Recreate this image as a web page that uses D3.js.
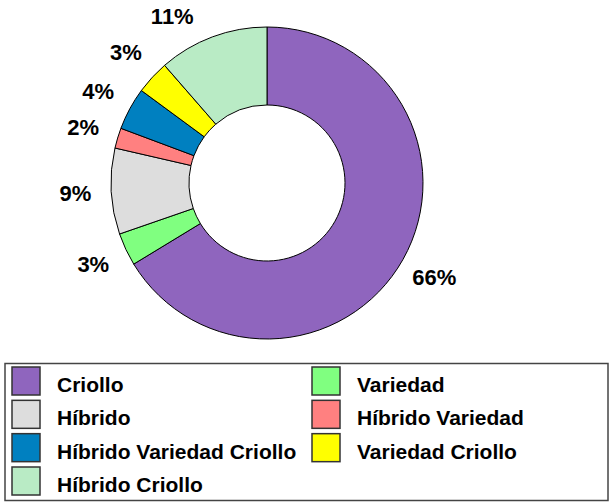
<!DOCTYPE html>
<html>
<head>
<meta charset="utf-8">
<script src="https://cdn.jsdelivr.net/npm/d3@7"></script>
<style>
  html, body { margin: 0; padding: 0; background: #fff; }
  svg { display: block; font-family: Arial, 'Liberation Sans', sans-serif; }
</style>
</head>
<body>
<svg id="chart" width="610" height="502"></svg>
<script>
  // data (shares in %, clockwise from 12 o'clock)
  var categories = ['Criollo', 'Variedad', 'Híbrido', 'Híbrido Variedad',
    'Híbrido Variedad Criollo', 'Variedad Criollo', 'Híbrido Criollo']
  var shares = [66.3, 3.4, 8.9, 2.1, 4.4, 3.5, 11.4]
  var shareLabels = ['66%', '3%', '9%', '2%', '4%', '3%', '11%']

  // constants
  var COLORS = ['#8f65be', '#80ff80', '#dddddd', '#ff8080', '#0080c0', '#ffff00', '#b9ebc5']
  var WIDTH = 610, HEIGHT = 502
  var CX = 267, CY = 183
  var OUTER = 156, INNER = 78, LABEL_R = 192
  var LABEL_MIN_Y = 16

  var svg = d3.select('#chart')

  // donut
  var pie = d3.pie().sort(null).value(function (d) { return d })
  var arc = d3.arc().innerRadius(INNER).outerRadius(OUTER)
  var arcs = pie(shares)

  var g = svg.append('g').attr('transform', 'translate(' + CX + ',' + CY + ')')

  g.selectAll('path')
    .data(arcs)
    .enter().append('path')
    .attr('d', arc)
    .attr('fill', function (d, i) { return COLORS[i] })
    .attr('stroke', '#000')
    .attr('stroke-width', 1)

  // labels sit on a circle round the donut; slide along it if they would leave the top
  function labelPos (d) {
    var a = (d.startAngle + d.endAngle) / 2
    var x = LABEL_R * Math.sin(a)
    var y = -LABEL_R * Math.cos(a)
    if (CY + y < LABEL_MIN_Y) {
      y = LABEL_MIN_Y - CY
      x = (x < 0 ? -1 : 1) * Math.sqrt(LABEL_R * LABEL_R - y * y)
    }
    return [x, y]
  }

  g.selectAll('text')
    .data(arcs)
    .enter().append('text')
    .attr('x', function (d) { return labelPos(d)[0] })
    .attr('y', function (d) { return labelPos(d)[1] })
    .attr('text-anchor', 'middle')
    .attr('dominant-baseline', 'central')
    .attr('font-size', 22)
    .attr('font-weight', 'bold')
    .attr('fill', '#000')
    .text(function (d, i) { return shareLabels[i] })

  // legend
  var legend = svg.append('g')
  legend.append('rect')
    .attr('x', 5).attr('y', 363.5)
    .attr('width', 603).attr('height', 137)
    .attr('fill', '#fff')
    .attr('stroke', '#444')
    .attr('stroke-width', 1.5)

  var colX = d3.scaleLinear().domain([0, 1]).range([12, 312])
  var rowY = d3.scaleLinear().domain([0, 3]).range([367, 467])

  var items = legend.selectAll('g.item')
    .data(categories)
    .enter().append('g')
    .attr('class', 'item')
    .attr('transform', function (d, i) {
      return 'translate(' + colX(i % 2) + ',' + rowY(Math.floor(i / 2)) + ')'
    })

  items.append('rect')
    .attr('width', 28).attr('height', 28)
    .attr('fill', function (d, i) { return COLORS[i] })
    .attr('stroke', '#333')
    .attr('stroke-width', 1.5)

  items.append('text')
    .attr('x', 45)
    .attr('y', 25)
    .attr('font-size', 21)
    .attr('font-weight', 'bold')
    .attr('fill', '#000')
    .text(function (d) { return d })
</script>
</body>
</html>
